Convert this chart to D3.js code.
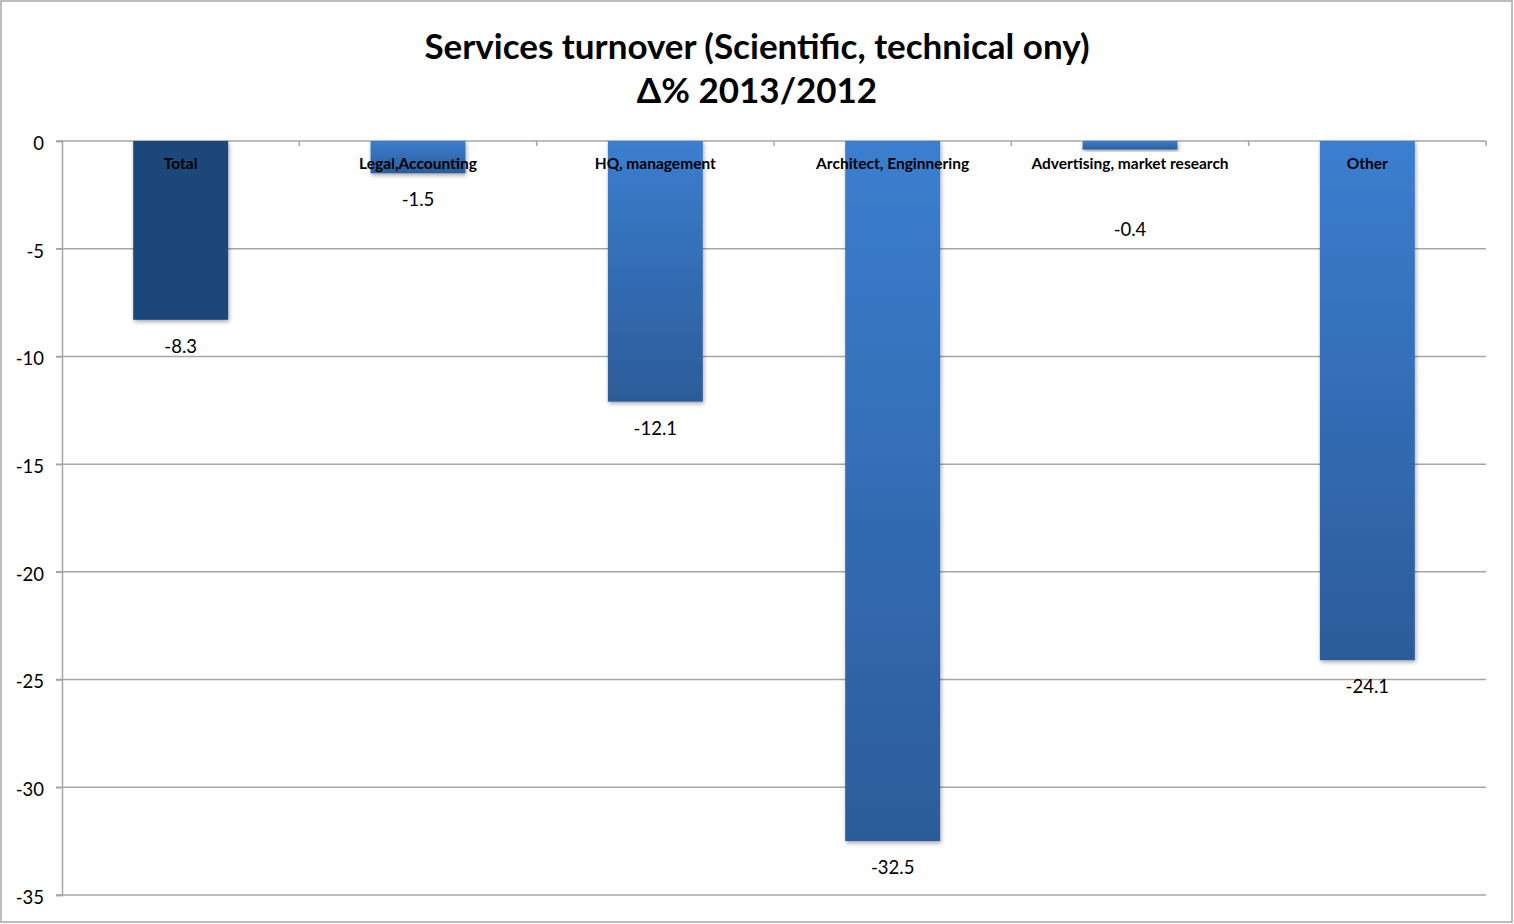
<!DOCTYPE html>
<html><head><meta charset="utf-8">
<script src="https://cdn.jsdelivr.net/npm/d3@7"></script>
<style>
body{margin:0;background:#fff;}
svg{display:block;font-family:Lato, "Open Sans", sans-serif;}
</style></head>
<body>
<svg id="c" width="1514" height="924"></svg>
<script>
const categories = ["Total","Legal,Accounting","HQ, management","Architect, Enginnering","Advertising, market research","Other"];
const values = [-8.3,-1.5,-12.1,-32.5,-0.4,-24.1];
const yTicks = [0,-5,-10,-15,-20,-25,-30,-35];
const titleLines = ["Services turnover (Scientific, technical ony)","\u0394% 2013/2012"];

const svg = d3.select("#c");
const W = 1514, H = 924;
const m = {left:62, right:28, top:141, bottom:29};
const fmt = v => String(v.toFixed(1)); // keeps ASCII hyphen-minus

svg.append("rect").attr("x",1).attr("y",1).attr("width",W-3).attr("height",H-3)
  .attr("fill","#fff").attr("stroke","#a6a6a6").attr("stroke-width",1.5);

const x = d3.scaleBand().domain(categories).range([m.left, W-m.right]).paddingInner(0.6).paddingOuter(0.3);
const y = d3.scaleLinear().domain([0,-35]).range([m.top, H-m.bottom]);

const defs = svg.append("defs");
const g1 = defs.append("linearGradient").attr("id","gb").attr("x1",0).attr("y1",0).attr("x2",0).attr("y2",1);
g1.append("stop").attr("offset","0%").attr("stop-color","#3b7ecf");
g1.append("stop").attr("offset","100%").attr("stop-color","#2c5c9a");
const f = defs.append("filter").attr("id","sh").attr("x","-10%").attr("y","-10%").attr("width","130%").attr("height","130%");
f.append("feDropShadow").attr("dx",1).attr("dy",2).attr("stdDeviation",2).attr("flood-color","#000").attr("flood-opacity",0.35);

// gridlines
svg.append("g").selectAll("line").data(yTicks).join("line")
  .attr("x1",m.left-6).attr("x2",W-m.right)
  .attr("y1",d=>y(d)).attr("y2",d=>y(d))
  .attr("stroke","#a6a6a6").attr("stroke-width",1.5);

// y axis
const ya = svg.append("g").attr("transform",`translate(${m.left},0)`)
  .call(d3.axisLeft(y).tickValues(yTicks).tickSize(6).tickPadding(12).tickFormat(d=>String(d)));
ya.select(".domain").attr("stroke","#a6a6a6").attr("stroke-width",1.5);
ya.selectAll(".tick line").attr("stroke","#a6a6a6").attr("stroke-width",1.5);
ya.selectAll("text").attr("font-size",18.5).attr("font-family","Lato, 'Open Sans', sans-serif").attr("fill","#000").attr("dy","0.45em");

// category ticks on zero line
const bounds = categories.map((c,i)=> m.left + (i+1)*(W-m.right-m.left)/categories.length);
svg.append("g").selectAll("line").data(bounds).join("line")
  .attr("x1",d=>d).attr("x2",d=>d).attr("y1",y(0)).attr("y2",y(0)+5)
  .attr("stroke","#a6a6a6").attr("stroke-width",1.5);

// bars
svg.append("g").selectAll("rect").data(values).join("rect")
  .attr("x",(d,i)=>x(categories[i]))
  .attr("width",x.bandwidth())
  .attr("y",y(0))
  .attr("height",d=>y(d)-y(0))
  .attr("fill",(d,i)=> i===0 ? "#1f477a" : "url(#gb)")
  .attr("filter","url(#sh)");

// category labels
svg.append("g").selectAll("text").data(categories).join("text")
  .attr("x",d=>x(d)+x.bandwidth()/2).attr("y",y(0)+28)
  .attr("text-anchor","middle").attr("font-size",15.5).attr("font-weight","bold").attr("fill","#000")
  .text(d=>d);

// value labels
svg.append("g").selectAll("text").data(values).join("text")
  .attr("x",(d,i)=>x(categories[i])+x.bandwidth()/2)
  .attr("y",d=>{ let yy = y(d)+33; if (yy < 190) yy += 53; return yy; })
  .attr("text-anchor","middle").attr("font-size",18.5).attr("fill","#000")
  .text(d=>fmt(d));

// title
svg.append("g").selectAll("text").data(titleLines).join("text")
  .attr("x",757).attr("y",(d,i)=>59+i*44)
  .attr("text-anchor","middle").attr("font-size",35).attr("font-weight","bold").attr("fill","#000")
  .text(d=>d);
</script>
</body></html>
